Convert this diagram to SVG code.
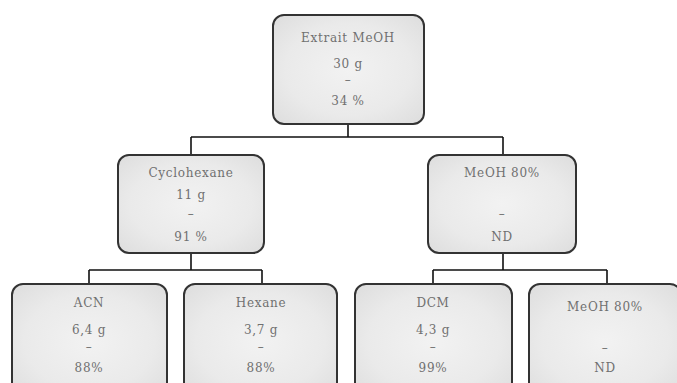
<svg xmlns="http://www.w3.org/2000/svg" width="677" height="383" viewBox="0 0 677 383">
<defs>
<radialGradient id="g" cx="50%" cy="50%" r="70%">
<stop offset="0" stop-color="#f2f2f2"/>
<stop offset="0.6" stop-color="#eaeaea"/>
<stop offset="1" stop-color="#dddddd"/>
</radialGradient>
</defs>
<style>
.box{fill:url(#g);stroke:#333;stroke-width:2}
.t{font-family:"DejaVu Serif","Liberation Serif",serif;font-size:12px;letter-spacing:0.7px;fill:#707070;text-anchor:middle}
.c{fill:none;stroke:#111;stroke-width:1.6}
</style>
<rect width="677" height="383" fill="#fff"/>
<g id="connectors">
<path class="c" d="M348,124 V137 M191,137 H503 M191,137 V155 M503,137 V155"/>
<path class="c" d="M191,253 V270 M89,270 H262 M89,270 V284 M262,270 V284"/>
<path class="c" d="M503,253 V270 M433,270 H607 M433,270 V284 M607,270 V284"/>
</g>
<g id="n-extrait">
<rect class="box" x="273" y="15" width="151" height="109" rx="11"/>
<text class="t" x="348" y="42">Extrait MeOH</text>
<text class="t" x="348" y="68">30 g</text>
<text class="t" x="348" y="84">–</text>
<text class="t" x="348" y="105">34 %</text>
</g>
<g id="n-cyclohexane">
<rect class="box" x="118" y="155" width="146" height="98" rx="11"/>
<text class="t" x="191" y="177">Cyclohexane</text>
<text class="t" x="191" y="199">11 g</text>
<text class="t" x="191" y="218">–</text>
<text class="t" x="191" y="241">91 %</text>
</g>
<g id="n-meoh80a">
<rect class="box" x="428" y="155" width="148" height="98" rx="11"/>
<text class="t" x="502" y="177">MeOH 80%</text>
<text class="t" x="502" y="218">–</text>
<text class="t" x="502" y="241">ND</text>
</g>
<g id="n-acn">
<rect class="box" x="12" y="284" width="155" height="115" rx="11"/>
<text class="t" x="89" y="307">ACN</text>
<text class="t" x="89" y="334">6,4 g</text>
<text class="t" x="89" y="351">–</text>
<text class="t" x="89" y="372">88%</text>
</g>
<g id="n-hexane">
<rect class="box" x="184" y="284" width="153" height="115" rx="11"/>
<text class="t" x="261" y="307">Hexane</text>
<text class="t" x="261" y="334">3,7 g</text>
<text class="t" x="261" y="351">–</text>
<text class="t" x="261" y="372">88%</text>
</g>
<g id="n-dcm">
<rect class="box" x="355" y="284" width="157" height="115" rx="11"/>
<text class="t" x="433" y="307">DCM</text>
<text class="t" x="433" y="334">4,3 g</text>
<text class="t" x="433" y="351">–</text>
<text class="t" x="433" y="372">99%</text>
</g>
<g id="n-meoh80b">
<rect class="box" x="529" y="284" width="152" height="115" rx="11"/>
<text class="t" x="605" y="311">MeOH 80%</text>
<text class="t" x="605" y="352">–</text>
<text class="t" x="605" y="372">ND</text>
</g>
</svg>
